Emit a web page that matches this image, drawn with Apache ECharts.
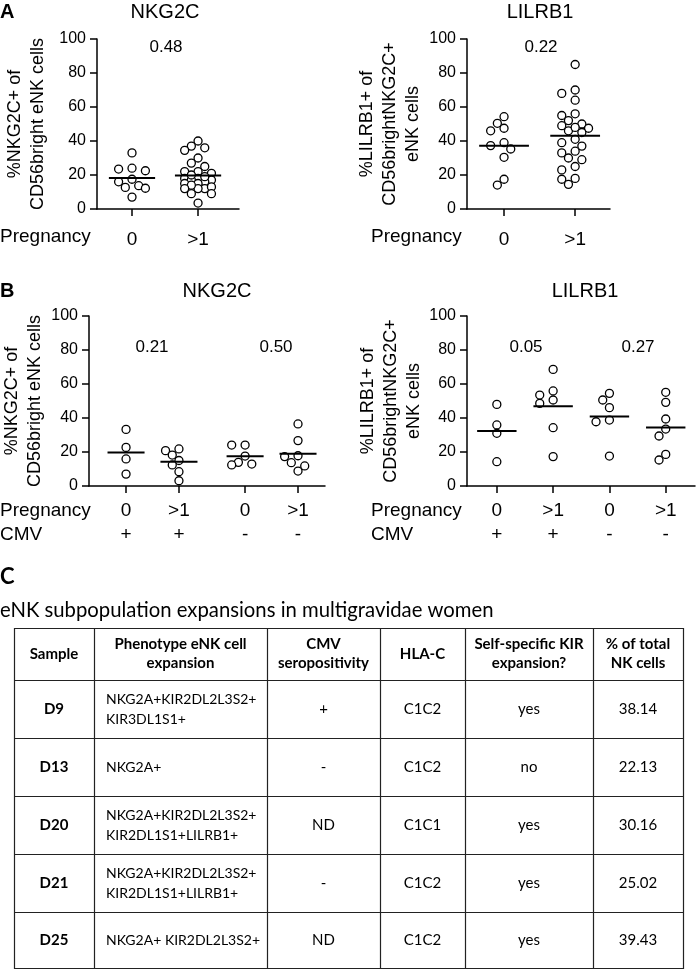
<!DOCTYPE html>
<html>
<head>
<meta charset="utf-8">
<script src="https://cdn.jsdelivr.net/npm/echarts@6/dist/echarts.min.js"></script>
<style>
html,body{margin:0;padding:0;background:#fff;}
#c{width:696px;height:970px;}
</style>
</head>
<body>
<div id="c"></div>
<script>
// ---------------- DATA ----------------
const pregnancyA = ['0', '>1'];
const pregnancyB = ['0', '>1', '0', '>1'];
const cmvB = ['+', '+', '-', '-'];

// Panel A – NKG2C (% NKG2C+ of CD56bright eNK cells)
const nkg2cA_preg0 = [33, 23.5, 24, 22.5, 17.5, 16, 12.7, 13.7, 12.2, 7];
const nkg2cA_preg1 = [40, 37, 34.5, 36, 30, 27, 25, 22, 21, 22, 17, 18, 18, 16, 17, 15, 15, 12, 13, 12, 9, 9, 3.5, 19, 20, 14, 12];
// Panel A – LILRB1
const lilrb1A_preg0 = [50.4, 47.5, 46, 54.3, 39, 35.3, 37.3, 30.4, 17.5, 14.1];
const lilrb1A_preg1 = [85, 68, 70, 64, 56, 55, 52, 49, 50, 47.5, 46, 45, 41, 39, 37, 34, 33, 30, 29, 25, 23, 18, 17.5, 14.5, 48];
// Panel B – NKG2C by pregnancy / CMV
const nkg2cB_g1 = [33.3, 22.7, 15.9, 7];
const nkg2cB_g2 = [20.8, 21.8, 15, 18.2, 12.4, 8.4, 3.1];
const nkg2cB_g3 = [24.1, 24.1, 17.6, 13.9, 12.4, 12.9];
const nkg2cB_g4 = [36.5, 26.7, 17.8, 17.3, 13.7, 11.8, 8.8];
// Panel B – LILRB1 by pregnancy / CMV
const lilrb1B_g1 = [48, 35.9, 31, 14.3];
const lilrb1B_g2 = [68.6, 53.5, 55.9, 48.6, 50.6, 34.3, 17.3];
const lilrb1B_g3 = [54.5, 50.6, 46.1, 38.8, 37.8, 17.6];
const lilrb1B_g4 = [55.1, 49.2, 39.4, 33.5, 29.4, 18.6, 15.3];

const pValuesA_nkg2c = ['0.48'];
const pValuesA_lilrb1 = ['0.22'];
const pValuesB_nkg2c = ['0.21', '0.50'];
const pValuesB_lilrb1 = ['0.05', '0.27'];

// Panel C table
const tableHeader = ['Sample', 'Phenotype eNK cell\nexpansion', 'CMV\nseropositivity', 'HLA-C', 'Self-specific KIR\nexpansion?', '% of total\nNK cells'];
const sampleIds = ['D9', 'D13', 'D20', 'D21', 'D25'];
const phenotypes = ['NKG2A+KIR2DL2L3S2+\nKIR3DL1S1+', 'NKG2A+', 'NKG2A+KIR2DL2L3S2+\nKIR2DL1S1+LILRB1+', 'NKG2A+KIR2DL2L3S2+\nKIR2DL1S1+LILRB1+', 'NKG2A+ KIR2DL2L3S2+'];
const cmvSero = ['+', '-', 'ND', '-', 'ND'];
const hlaC = ['C1C2', 'C1C2', 'C1C1', 'C1C2', 'C1C2'];
const selfKir = ['yes', 'no', 'yes', 'yes', 'yes'];
const pctNK = ['38.14', '22.13', '30.16', '25.02', '39.43'];

// ---------------- LAYOUT ----------------
const ARIAL = '"Liberation Sans", Arial, sans-serif';
const CAL = 'Lato, "Open Sans", sans-serif';

const panels = [
  { groups: [nkg2cA_preg0, nkg2cA_preg1], xpos: [1, 2], labels: pregnancyA.map(s => s),
    grid: { left: 97, top: 39, width: 142, height: 170 }, xmin: 0.47, xmax: 2.62,
    yname: '%NKG2C+ of\nCD56bright eNK cells', nameGap: 47, labelMargin: 19, lineH: 24 },
  { groups: [lilrb1A_preg0, lilrb1A_preg1], xpos: [1, 2], labels: pregnancyA.map(s => s),
    grid: { left: 467, top: 39, width: 143, height: 170 }, xmin: 0.479, xmax: 2.49,
    yname: '%LILRB1+ of\nCD56brightNKG2C+\neNK cells', nameGap: 42, labelMargin: 19, lineH: 24 },
  { groups: [nkg2cB_g1, nkg2cB_g2, nkg2cB_g3, nkg2cB_g4], xpos: [1, 2, 3.25, 4.25],
    labels: pregnancyB.map((p, i) => p + '\n' + cmvB[i]),
    grid: { left: 89, top: 316, width: 236, height: 170 }, xmin: 0.30, xmax: 4.76,
    yname: '%NKG2C+ of\nCD56bright eNK cells', nameGap: 42, labelMargin: 13, lineH: 24 },
  { groups: [lilrb1B_g1, lilrb1B_g2, lilrb1B_g3, lilrb1B_g4], xpos: [1, 2, 3, 4],
    labels: pregnancyB.map((p, i) => p + '\n' + cmvB[i]),
    grid: { left: 467, top: 316, width: 228, height: 170 }, xmin: 0.47, xmax: 4.52,
    yname: '%LILRB1+ of\nCD56brightNKG2C+\neNK cells', nameGap: 40, labelMargin: 13, lineH: 24 }
];

const mean = a => a.reduce((s, v) => s + v, 0) / a.length;

// simple beeswarm: horizontal slots so hollow dots don't pile on each other
function swarm(values, kx, ky) {
  const step = 6.7, thr = 8, maxSlot = 2;
  const order = values.map((v, i) => i).sort((a, b) => values[b] - values[a]);
  const placed = [];
  const offs = new Array(values.length).fill(0);
  const slots = [0];
  for (let s = 1; s <= maxSlot; s++) { slots.push(-s, s); }
  order.forEach(i => {
    const py = values[i] * ky;
    let best = null, bestD = -1;
    for (const s of slots) {
      const px = s * step;
      let d = Infinity;
      placed.forEach(p => { d = Math.min(d, Math.hypot(p.x - px, p.y - py)); });
      if (d >= thr) { best = s; break; }
      if (d > bestD) { bestD = d; best = s; }
    }
    placed.push({ x: best * step, y: py });
    offs[i] = best * step / kx;
  });
  return offs;
}

const grids = [], xAxes = [], yAxes = [], series = [];
panels.forEach((p, pi) => {
  grids.push(Object.assign({ outerBoundsMode: 'none', containLabel: false }, p.grid));
  const kx = p.grid.width / (p.xmax - p.xmin);
  const ky = p.grid.height / 100;
  const labels = p.labels;
  const xpos = p.xpos;
  xAxes.push({
    gridIndex: pi, type: 'value', min: p.xmin, max: p.xmax,
    axisLine: { show: true, onZero: false, lineStyle: { color: '#000', width: 1.5 } },
    axisTick: { show: true, customValues: xpos, length: 7, lineStyle: { color: '#000', width: 1.5 } },
    axisLabel: { show: true, customValues: xpos, margin: p.labelMargin, color: '#000',
      fontFamily: ARIAL, fontSize: 19, lineHeight: p.lineH,
      formatter: v => { const k = xpos.findIndex(x => Math.abs(x - v) < 1e-6); return k >= 0 ? labels[k] : ''; } },
    splitLine: { show: false }
  });
  yAxes.push({
    gridIndex: pi, type: 'value', min: 0, max: 100, interval: 20,
    name: p.yname, nameLocation: 'middle', nameRotate: 90, nameGap: p.nameGap,
    nameTextStyle: { fontFamily: ARIAL, fontSize: 18, color: '#000', lineHeight: 23 },
    axisLine: { show: true, onZero: false, lineStyle: { color: '#000', width: 1.5 } },
    axisTick: { show: true, length: 7, lineStyle: { color: '#000', width: 1.5 } },
    axisLabel: { color: '#000', fontFamily: ARIAL, fontSize: 16, margin: 11 },
    splitLine: { show: false }
  });
  p.groups.forEach((g, gi) => {
    const offs = swarm(g, kx, ky);
    series.push({
      type: 'scatter', xAxisIndex: pi, yAxisIndex: pi, symbol: 'circle', symbolSize: 8,
      itemStyle: { color: '#fff', borderColor: '#000', borderWidth: 1.3, opacity: 1 },
      data: g.map((v, i) => [xpos[gi] + offs[i], v]), z: 3, silent: true
    });
  });
  series.push({
    type: 'custom', xAxisIndex: pi, yAxisIndex: pi, z: 5, silent: true,
    data: p.groups.map((g, gi) => [xpos[gi], mean(g)]),
    renderItem: (params, api) => {
      const x = api.value(0), y = api.value(1);
      const a = api.coord([x - 0.35, y]), b = api.coord([x + 0.35, y]);
      return { type: 'line', shape: { x1: a[0], y1: a[1], x2: b[0], y2: b[1] }, style: { stroke: '#000', lineWidth: 2 } };
    }
  });
});

// ---------------- GRAPHIC TEXT + TABLE ----------------
const g = [];
function txt(x, y, text, size, opts) {
  opts = opts || {};
  g.push({ type: 'text', x: x, y: y, silent: true, style: Object.assign({
    text: text, fill: '#000', fontFamily: ARIAL, fontSize: size,
    align: 'center', verticalAlign: 'middle' }, opts) });
}
// panel letters and titles
txt(0, 12, 'A', 20, { align: 'left', fontWeight: 'bold' });
txt(0, 291, 'B', 20, { align: 'left', fontWeight: 'bold' });
txt(0, 577, 'C', 22, { align: 'left', fontWeight: 'bold', fontFamily: CAL });
txt(165, 12, 'NKG2C', 20);
txt(540, 12, 'LILRB1', 20);
txt(217, 291, 'NKG2C', 20);
txt(585, 291, 'LILRB1', 20);
// p values
txt(166, 47, pValuesA_nkg2c[0], 17);
txt(541, 47, pValuesA_lilrb1[0], 17);
txt(152, 347, pValuesB_nkg2c[0], 17);
txt(276, 347, pValuesB_nkg2c[1], 17);
txt(526, 347, pValuesB_lilrb1[0], 17);
txt(638, 347, pValuesB_lilrb1[1], 17);
// row captions
txt(0, 237, 'Pregnancy', 19, { align: 'left' });
txt(371, 237, 'Pregnancy', 19, { align: 'left' });
txt(0, 511, 'Pregnancy', 19, { align: 'left' });
txt(0, 535, 'CMV', 19, { align: 'left' });
txt(371, 511, 'Pregnancy', 19, { align: 'left' });
txt(371, 535, 'CMV', 19, { align: 'left' });
// table title
txt(0, 610, 'eNK subpopulation expansions in multigravidae women', 20.3, { align: 'left', fontFamily: CAL });

const colX = [14, 94, 267, 380, 465, 593, 683];
const rowY = [628, 680, 738, 796, 854, 912, 968];
const lineStyle = { stroke: '#222', lineWidth: 1.2 };
colX.forEach(x => g.push({ type: 'line', silent: true, shape: { x1: x + 0.5, y1: rowY[0], x2: x + 0.5, y2: rowY[rowY.length - 1] + 1 }, style: lineStyle }));
rowY.forEach(y => g.push({ type: 'line', silent: true, shape: { x1: colX[0], y1: y + 0.5, x2: colX[colX.length - 1] + 1, y2: y + 0.5 }, style: lineStyle }));
const cellCenter = c => (colX[c] + colX[c + 1]) / 2;
const rowCenter = r => (rowY[r] + rowY[r + 1]) / 2;
tableHeader.forEach((h, c) => txt(cellCenter(c), rowCenter(0), h, 15, { fontFamily: CAL, fontWeight: 'bold', lineHeight: 19 }));
const cols = [sampleIds, phenotypes, cmvSero, hlaC, selfKir, pctNK];
cols.forEach((col, c) => col.forEach((v, r) => {
  if (c === 0) txt(cellCenter(c), rowCenter(r + 1), v, 15, { fontFamily: CAL, fontWeight: 'bold' });
  else if (c === 1) txt(colX[1] + 12, rowCenter(r + 1), v, 14, { fontFamily: CAL, align: 'left', lineHeight: 20 });
  else txt(cellCenter(c), rowCenter(r + 1), v, 15, { fontFamily: CAL });
}));

const chart = echarts.init(document.getElementById('c'), null, { renderer: 'canvas' });
chart.setOption({
  backgroundColor: '#fff',
  animation: false,
  grid: grids,
  xAxis: xAxes,
  yAxis: yAxes,
  series: series,
  graphic: { elements: g }
});
</script>
</body>
</html>
